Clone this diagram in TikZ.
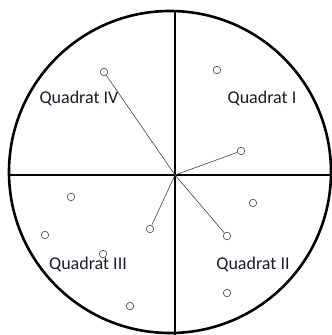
\documentclass[tikz,border=0pt]{standalone}
\usepackage{fontspec}
\setmainfont{Carlito}
\usetikzlibrary{positioning}
\definecolor{qdtext}{HTML}{1A1A2E}
\definecolor{qdpt}{HTML}{555555}

\begin{document}
\begin{tikzpicture}[
      x=1pt, y=-1pt,
      axis/.style={line width=2.6pt, draw=black},
      pt/.style={circle, draw=qdpt, line width=0.7pt, inner sep=0pt, minimum size=7.5pt},
      ray/.style={line width=0.6pt, draw=qdpt!80!black},
      lab/.style={font=\fontsize{18}{21}\selectfont, text=qdtext}
    ]
    \useasboundingbox (0,0) rectangle (332,335);
    \clip (0,0) rectangle (332,335);
    % rim and axes
    \draw[axis] (170,172) circle[radius=161pt];
    \coordinate (o) at (175,175);
    \coordinate (top) at (175,10);
    \coordinate (bot) at (175,336);
    \coordinate (lft) at (9,175);
    \coordinate (rgt) at (333,175);
    \draw[axis] (top) -- (bot);
    \draw[axis] (lft) -- (rgt);

    \node[lab] (q4) at (79,98) {Quadrat IV};
    \node[lab] (q1) at (262,98) {Quadrat I};
    \node[lab] (q3) at (88,264) {Quadrat III};
    \node[lab] (q2) at (253,264) {Quadrat II};

    % sample points
    \node[pt] (p4a) at (104,72) {};
    \node[pt] (p1a) at (217,70) {};
    \node[pt] (p1b) at (241,151) {};
    \node[pt] (p2a) at (253,203) {};
    \node[pt] (p2b) at (227,236) {};
    \node[pt] (p2c) at (227,293) {};
    \node[pt] (p3a) at (71,197) {};
    \node[pt] (p3b) at (45,235) {};
    \node[pt] (p3c) at (150,229) {};
    \node[pt] (p3d) at (103,254) {};
    \node[pt] (p3e) at (130,306) {};

    % nearest point per quadrat
    \draw[ray] (o) -- (p4a);
    \draw[ray] (o) -- (p1b);
    \draw[ray] (o) -- (p2b);
    \draw[ray] (o) -- (p3c);
  \end{tikzpicture}
\end{document}
